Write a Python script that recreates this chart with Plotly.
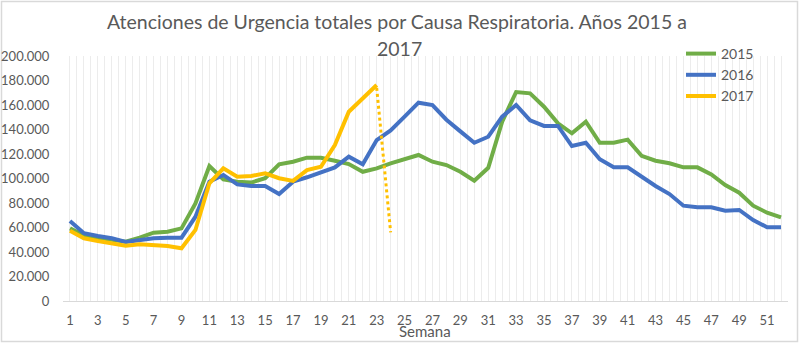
import plotly.graph_objects as go

weeks = list(range(1, 53))
y2015 = [59300, 53600, 51700, 49800, 48400, 51700, 55800, 56600, 59300, 79700,
         110200, 99300, 97400, 96700, 100200, 111600, 113700, 117000, 117000, 114500,
         111800, 105500, 108300, 112400, 115700, 119200, 113700, 111000, 105500, 98200,
         108700, 146400, 170600, 169500, 158600, 145000, 136900, 146400, 129200, 129200,
         131700, 118500, 114500, 112400, 109100, 109100, 103400, 94700, 88400, 77800,
         72100, 68300]
y2016 = [65300, 55300, 53000, 51200, 48200, 49800, 51200, 51700, 51700, 68800,
         97400, 102900, 95200, 93900, 93900, 87300, 97400, 101000, 104800, 109100,
         117800, 111600, 131400, 139300, 150500, 161900, 160000, 148000, 138500, 129200,
         134100, 150500, 160000, 147500, 142900, 142900, 126500, 129200, 115700, 109100,
         109100, 101500, 93900, 87300, 77800, 76500, 76500, 73700, 74300, 66100,
         60200, 60200]
weeks2017 = list(range(1, 24))
y2017 = [57400, 51200, 49000, 47100, 45200, 46300, 45700, 44900, 43000, 58000,
         96100, 108300, 101500, 102100, 104200, 100200, 98000, 106900, 109600, 127300,
         154500, 165400, 176300]
marker_x = [23, 24]
marker_y = [174000, 56000]
tick_vals = list(range(1, 52, 2))
y_ticks = list(range(0, 200001, 20000))
y_labels = ["0" if v == 0 else f"{v:,}".replace(",", ".") for v in y_ticks]

W, H = 800, 344
ML, MR, MT, MB = 63, 12, 56, 43
PW, PH = W - ML - MR, H - MT - MB

GRAY = "#595959"
FONT = "Lato"

fig = go.Figure()
fig.add_trace(go.Scatter(x=weeks, y=y2015, mode="lines", name="2015",
                         line=dict(color="#70AD47", width=4)))
fig.add_trace(go.Scatter(x=weeks, y=y2016, mode="lines", name="2016",
                         line=dict(color="#4472C4", width=4)))
fig.add_trace(go.Scatter(x=weeks2017, y=y2017, mode="lines", name="2017",
                         line=dict(color="#FFC000", width=4)))
fig.add_trace(go.Scatter(x=marker_x, y=marker_y, mode="lines", showlegend=False,
                         line=dict(color="#FFC000", width=3, dash="dot")))

def px_x(p):
    return (p - ML) / PW

def px_y(p):
    return (H - MB - p) / PH

fig.update_layout(
    width=W, height=H,
    margin=dict(l=ML, r=MR, t=MT, b=MB, autoexpand=False),
    paper_bgcolor="white", plot_bgcolor="white",
    font=dict(family=FONT, color=GRAY, size=13),
    showlegend=True,
    legend=dict(x=px_x(681), y=px_y(38), xanchor="left", yanchor="top",
                font=dict(size=14, color=GRAY), bgcolor="rgba(0,0,0,0)",
                tracegroupgap=0, itemwidth=30),
    xaxis=dict(range=[0.5, 52.5], tickmode="array", tickvals=tick_vals,
               ticktext=[str(v) for v in tick_vals], automargin=False,
               showgrid=False, zeroline=False,
               showline=True, linecolor="#d9d9d9", linewidth=1,
               ticks="outside", ticklen=7, tickcolor="rgba(0,0,0,0)",
               tickfont=dict(size=13, color=GRAY),
               minor=dict(tick0=0.5, dtick=0.5, showgrid=True,
                          gridcolor="#ececec", gridwidth=1)),
    yaxis=dict(range=[0, 200000], tickmode="array", tickvals=y_ticks,
               ticktext=y_labels, showgrid=False, zeroline=False, automargin=False,
               showline=False, ticks="outside", ticklen=10,
               tickcolor="rgba(0,0,0,0)", tickfont=dict(size=13, color=GRAY)),
    annotations=[
        dict(text="Atenciones de Urgencia totales por Causa Respiratoria. Años 2015 a",
             xref="paper", yref="paper", x=px_x(397), y=px_y(22),
             xanchor="center", yanchor="middle", showarrow=False,
             font=dict(size=19.5, color=GRAY, family=FONT)),
        dict(text="2017", xref="paper", yref="paper", x=px_x(399), y=px_y(48),
             xanchor="center", yanchor="middle", showarrow=False,
             font=dict(size=19.5, color=GRAY, family=FONT)),
        dict(text="Semana", xref="paper", yref="paper", x=px_x(425), y=px_y(331),
             xanchor="center", yanchor="middle", showarrow=False,
             font=dict(size=15, color=GRAY, family=FONT)),
    ],
    shapes=[dict(type="rect", xref="paper", yref="paper",
                 x0=px_x(1.5), x1=px_x(797.5), y0=px_y(341.5), y1=px_y(1.5),
                 line=dict(color="#d9d9d9", width=1.5), layer="below")],
)

fig.write_html("out.html")
